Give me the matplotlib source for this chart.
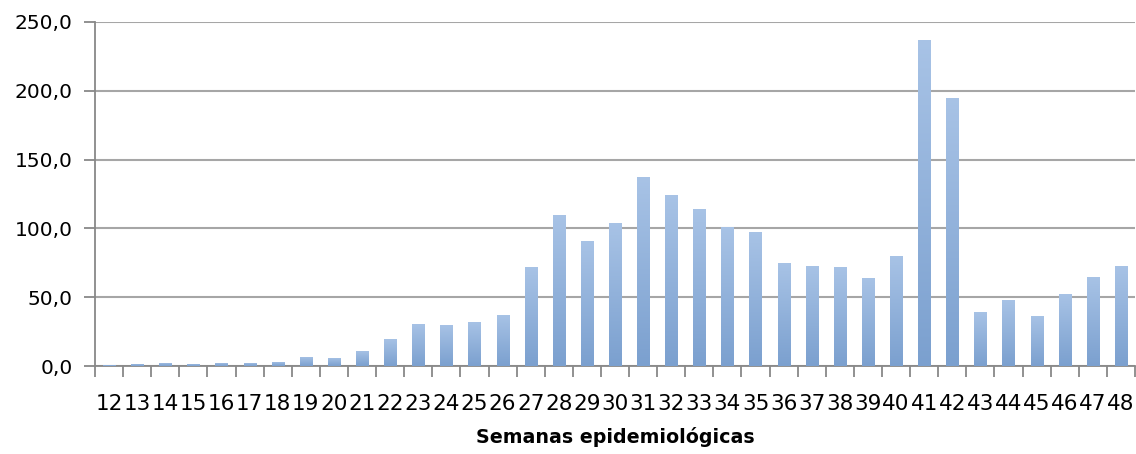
import matplotlib
matplotlib.use("Agg")
import matplotlib.pyplot as plt
import numpy as np
from matplotlib.colors import LinearSegmentedColormap

weeks = [str(w) for w in range(12, 49)]
values = [1.0, 1.7, 2.4, 1.7, 2.4, 2.4, 3.1, 6.8, 6.1, 11.0, 19.9, 30.8, 30.1, 32.2,
          37.2, 72.0, 110.0, 91.0, 104.0, 137.0, 124.5, 114.2, 101.0, 97.5, 75.0,
          72.7, 72.0, 64.0, 80.0, 237.0, 195.0, 39.3, 48.0, 36.4, 52.4, 64.7, 72.7]
yticks = [0, 50, 100, 150, 200, 250]
ytick_labels = ["0,0", "50,0", "100,0", "150,0", "200,0", "250,0"]
xlabel = "Semanas epidemiológicas"

W, H = 1136, 454
fig = plt.figure(figsize=(W / 100, H / 100), dpi=100)
ax = fig.add_axes([95 / W, (H - 366) / H, 1040 / W, 344 / H])

x = np.arange(len(weeks))
bars = ax.bar(x, values, width=0.43, color="#8EAEDA", edgecolor="none", zorder=3)

cmap = LinearSegmentedColormap.from_list("grad", ["#7BA0CF", "#A8C3E6"])
grad = np.linspace(0, 1, 256).reshape(-1, 1)
for b in bars:
    x0 = b.get_x()
    w = b.get_width()
    h = b.get_height()
    im = ax.imshow(grad, cmap=cmap, origin="lower", aspect="auto",
                   extent=(x0, x0 + w, 0, h), zorder=3.5, interpolation="bilinear")
    im.set_clip_path(b)

ax.set_xlim(-0.5, len(weeks) - 0.5)
ax.set_ylim(0, 250)
ax.set_yticks(yticks)
ax.set_yticklabels(ytick_labels, fontsize=14.5, family="DejaVu Sans")
ax.set_xticks(x)
ax.set_xticklabels(weeks, fontsize=15.5, family="DejaVu Sans")
ax.set_xticks(np.arange(-0.5, len(weeks), 1.0), minor=True)
ax.tick_params(axis="x", which="major", length=0, pad=20)
ax.tick_params(axis="x", which="minor", length=8, width=1.3, color="#888888")
ax.tick_params(axis="y", length=8, width=1.3, color="#888888", pad=8)

ax.grid(axis="y", color="#A6A6A6", linewidth=1.5, zorder=0)
ax.set_axisbelow(True)
for s in ["top", "right"]:
    ax.spines[s].set_visible(False)
for s in ["left", "bottom"]:
    ax.spines[s].set_color("#888888")
    ax.spines[s].set_linewidth(1.3)

fig.text((95 + 1135) / 2 / W, 1 - 437 / H, xlabel, ha="center", va="center",
         fontsize=13.7, fontweight="bold", family="DejaVu Sans")

fig.savefig("out.png", dpi=100)
